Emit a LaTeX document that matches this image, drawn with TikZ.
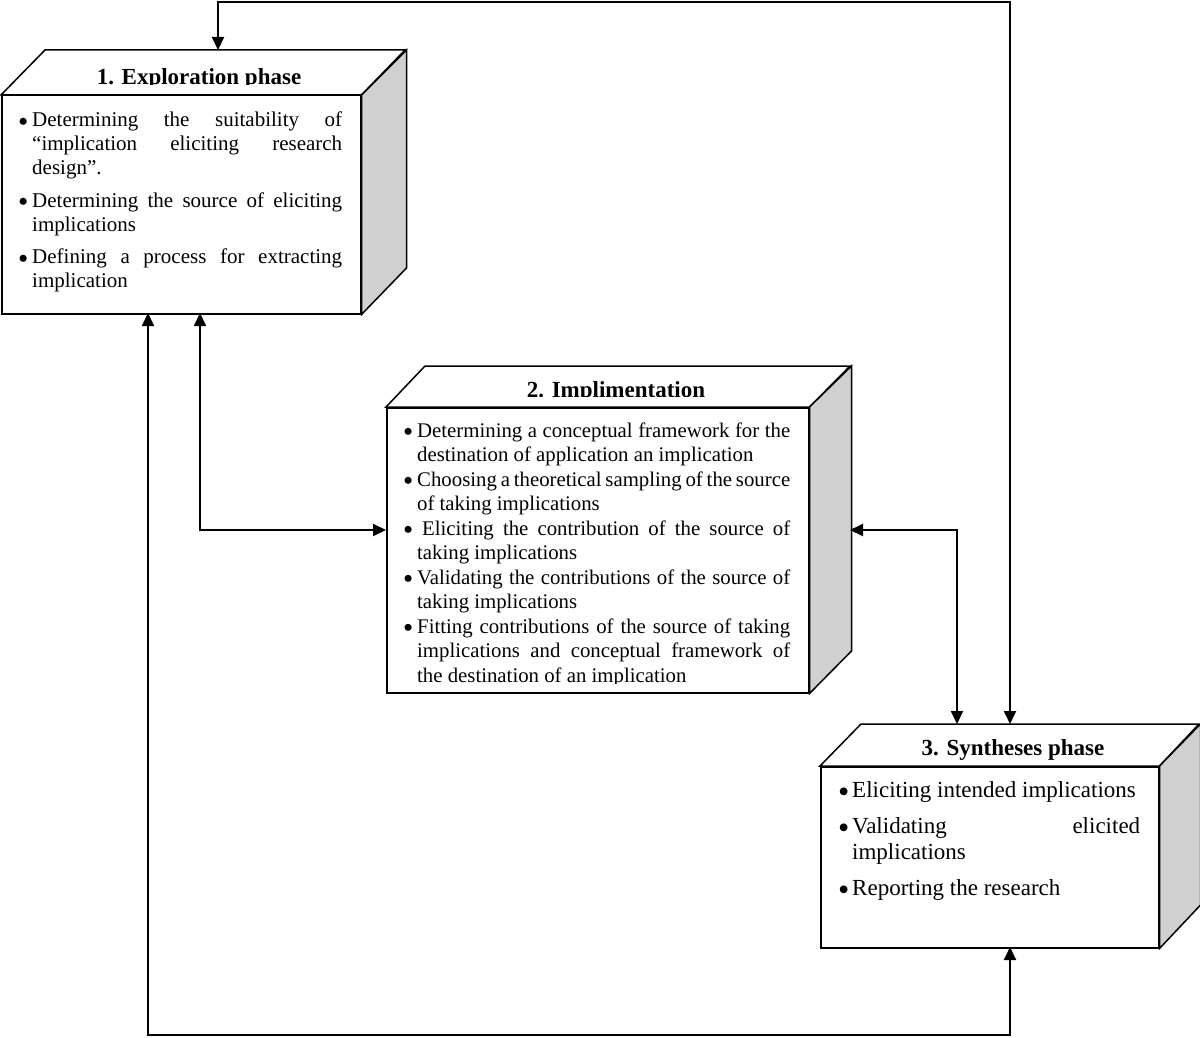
\documentclass[tikz,border=0pt]{standalone}
\usepackage{fontspec}
\usepackage{graphicx}
\setmainfont{Liberation Serif}
\usetikzlibrary{arrows.meta}
\definecolor{sidegray}{RGB}{208,208,208}
\newcommand{\bulletmark}{\raisebox{-0.22em}{\scalebox{1.4}{•}}}
\newcommand{\bitem}[1]{\par\noindent\hangindent=14pt\hangafter=1\makebox[14pt][l]{\bulletmark}#1}
\newcommand{\bodyset}{\hyphenpenalty=10000\exhyphenpenalty=10000\tolerance=10000\hbadness=10000}
\tikzset{
  face/.style={draw=black, line width=1.5pt, fill=white, line join=miter},
  side/.style={face, fill=sidegray},
  front/.style={draw=black, line width=1.5pt, fill=white, inner sep=0pt, rectangle, anchor=north west},
  ttl/.style={font=\bfseries\fontsize{23}{26}\selectfont, inner sep=0pt, anchor=base},
  body/.style={inner sep=0pt, anchor=north west, align=justify},
  conn/.style={line width=2pt, {Triangle[length=13pt,width=12pt]}-{Triangle[length=13pt,width=12pt]}},
}
\begin{document}
\begin{tikzpicture}[x=1pt,y=-1pt]
\useasboundingbox (0,0) rectangle (1200,1038);

% ---------- Box 1 ----------
\node[front, minimum width=359pt, minimum height=218pt] (f1) at (1,95) {};
\draw[face] (f1.north west) -- ++(44,-45) -- ++(360,0) -- (f1.north east) -- cycle;
\draw[side] (f1.north east) -- ++(45,-45) -- ++(0,218) -- (f1.south east) -- cycle;
\begin{scope}
  \clip (0,0) rectangle (1200,84.2);
  \node[ttl] (h1) at (199,85) {1. Exploration phase};
\end{scope}
\node[body, text width=324pt, font=\fontsize{21}{24}\selectfont] (t1) at (18,94.0) {\bodyset\parskip=8.5pt
\bitem{\strut Determining the suitability of\linebreak “implication eliciting research\linebreak design”.}
\bitem{Determining the source of eliciting\linebreak implications}
\bitem{Defining a process for extracting\linebreak implication}\par};

% ---------- Box 2 ----------
\node[front, minimum width=422pt, minimum height=285pt] (f2) at (386,407) {};
\draw[face] (f2.north west) -- ++(39,-41) -- ++(425,0) -- (f2.north east) -- cycle;
\draw[side] (f2.north east) -- ++(42,-41) -- ++(0,285) -- (f2.south east) -- cycle;
\begin{scope}
  \clip (0,0) rectangle (1200,396.2);
  \node[ttl] (h2) at (616,397) {2. Implimentation};
\end{scope}
\begin{scope}
  \clip (386,407) rectangle (808,683);
  \node[body, text width=387pt, font=\fontsize{20.8}{24.5}\selectfont] (t2) at (403,412.65) {\bodyset\parskip=0pt
  \bitem{\strut Determining a conceptual framework for the\linebreak destination of application an implication}
  \bitem{Choosing a theoretical sampling of the source\linebreak of taking implications}
  \bitem{\hspace{5pt}Eliciting the contribution of the source of\linebreak taking implications}
  \bitem{Validating the contributions of the source of\linebreak taking implications}
  \bitem{Fitting contributions of the source of taking\linebreak implications and conceptual framework of\linebreak the destination of an implication}\par};
\end{scope}

% ---------- Box 3 ----------
\node[front, minimum width=338pt, minimum height=181pt] (f3) at (820,766) {};
\draw[face] (f3.north west) -- ++(41,-42) -- ++(338,0) -- (f3.north east) -- cycle;
\draw[side] (f3.north east) -- ++(41,-42) -- ++(0,181) -- (f3.south east) -- cycle;
\node[ttl] (h3) at (1013,755) {3. Syntheses phase};
\node[body, text width=302pt, font=\fontsize{23}{26}\selectfont] (t3) at (838,761.6) {\bodyset\parskip=10pt
\bitem{\strut Eliciting intended implications}
\bitem{Validating elicited\linebreak implications}
\bitem{Reporting the research}\par};

% ---------- connector end points ----------
\coordinate (a1) at (218,50);
\coordinate (k1) at (218,2);
\coordinate (k2) at (1010,2);
\coordinate (a3) at (1010,724);
\coordinate (b1) at (148,313);
\coordinate (k3) at (148,1035);
\coordinate (k4) at (1010,1035);
\coordinate (b3) at (1010,947);
\coordinate (m1) at (200,313);
\coordinate (k5) at (200,530);
\coordinate (l2) at (386,530);
\coordinate (r2) at (850,530);
\coordinate (k6) at (957,530);
\coordinate (m3) at (957,724);

\draw[conn] (a1) -- (k1) -- (k2) -- (a3);
\draw[conn] (b1) -- (k3) -- (k4) -- (b3);
\draw[conn] (m1) -- (k5) -- (l2);
\draw[conn] (r2) -- (k6) -- (m3);
\end{tikzpicture}
\end{document}
